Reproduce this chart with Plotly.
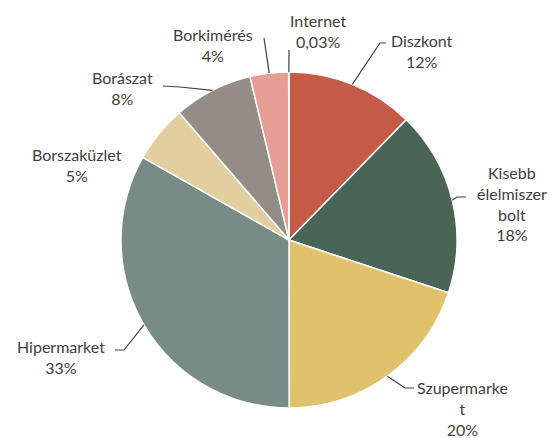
import math
import plotly.graph_objects as go

# ---- data ----
categories = ["Diszkont", "Kisebb élelmiszer bolt", "Szupermarket", "Hipermarket",
              "Borszaküzlet", "Borászat", "Borkimérés", "Internet"]
shares = [12.3, 17.8, 19.9, 33.2, 5.5, 7.6, 3.7, 0.03]
share_labels = ["12%", "18%", "20%", "33%", "5%", "8%", "4%", "0,03%"]
label_lines = [["Diszkont"], ["Kisebb", "élelmiszer", "bolt"], ["Szupermarke", "t"],
               ["Hipermarket"], ["Borszaküzlet"], ["Borászat"], ["Borkimérés"], ["Internet"]]
colors = ["#C55B46", "#486556", "#E0C26D", "#798B87", "#E2CF9F", "#948D87", "#E69D93", "#8FA9C9"]

# ---- layout constants (pixels) ----
W, H = 550, 438
CX, CY, R = 289, 240, 168
TXT = "#404040"

# text block centres (px) and leader elbow points (px) per slice
text_pos = [(422, 51), (512, 203), (462, 408), (61, 357), (77, 165), (122, 88), (213, 45), (318, 31)]
elbows = [[(380, 43), (386, 43)], [(457, 197), (466, 197)], [(405, 388), (414, 388)],
          [(124, 350), (115, 350)], None, [(180, 87), (163, 86)], [(264, 38)], [(289, 50)]]

fig = go.Figure(go.Pie(
    labels=categories, values=shares, sort=False, direction="clockwise", rotation=0,
    marker=dict(colors=colors, line=dict(color="white", width=1.5)),
    textinfo="none", hoverinfo="label+percent", showlegend=False,
    domain=dict(x=[(CX - R) / W, (CX + R) / W], y=[(H - CY - R) / H, (H - CY + R) / H]),
))

def px2paper(x, y):
    return x / W, 1 - y / H

total = sum(shares)
cum = 0.0
shapes, annots = [], []
for i, v in enumerate(shares):
    mid = (cum + v / 2) / total * 2 * math.pi
    cum += v
    ex, ey = CX + R * math.sin(mid), CY - R * math.cos(mid)
    if elbows[i]:
        pts = [(ex, ey)] + elbows[i]
        path = "M " + " L ".join(f"{px2paper(x, y)[0]:.5f},{px2paper(x, y)[1]:.5f}" for x, y in pts)
        shapes.append(dict(type="path", path=path, xref="paper", yref="paper",
                           line=dict(color=TXT, width=1.2)))
    tx, ty = px2paper(*text_pos[i])
    annots.append(dict(x=tx, y=ty, xref="paper", yref="paper", showarrow=False,
                       text="<br>".join(label_lines[i] + [share_labels[i]]),
                       align="center", xanchor="center", yanchor="middle",
                       font=dict(family="Lato, Open Sans, sans-serif", size=16, color=TXT)))

fig.update_layout(width=W, height=H, margin=dict(l=0, r=0, t=0, b=0),
                  paper_bgcolor="white", plot_bgcolor="white",
                  shapes=shapes, annotations=annots)
fig.write_html("out.html", config={"displayModeBar": False})

# remove default page margin so the chart sits at the window's top-left corner
with open("out.html", encoding="utf-8") as f:
    html = f.read()
html = html.replace("<body>", '<body style="margin:0;overflow:hidden">', 1)
with open("out.html", "w", encoding="utf-8") as f:
    f.write(html)
